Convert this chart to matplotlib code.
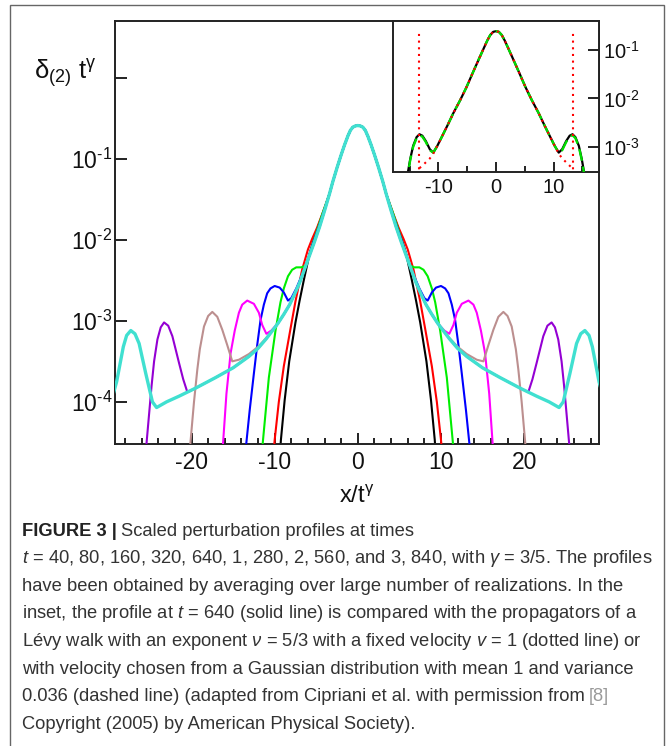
import numpy as np
import matplotlib
matplotlib.use('Agg')
import matplotlib.pyplot as plt
from matplotlib.patches import Rectangle
from matplotlib.ticker import FixedLocator, NullLocator

plt.rcParams['font.family'] = ['Liberation Sans', 'DejaVu Sans']
plt.rcParams['mathtext.fontset'] = 'custom'
plt.rcParams['mathtext.rm'] = 'Liberation Sans'
plt.rcParams['mathtext.it'] = 'Liberation Sans:italic'
plt.rcParams['mathtext.bf'] = 'Liberation Sans:bold'

W, H = 672, 746

# --- data: half profiles, x >= 0, value = log10(delta_(2) t^gamma); mirrored about x=0
times = [40, 80, 160, 320, 640, 1280, 2560, 3840]
colors = ['black', '#ff0000', '#00ee00', '#0000ff', '#ff00ff', '#bc8f8f', '#9400d3', '#40e0d0']

core_x = [0.0, 0.3, 0.6, 0.9, 1.2, 1.6, 2.0, 2.5, 3.0, 3.4]
core_ly = [-0.59, -0.595, -0.61, -0.65, -0.72, -0.83, -0.95, -1.11, -1.28, -1.43]

env_x = [4.0, 4.6, 5.2, 5.8, 6.4, 7.0, 7.6, 8.2, 8.9, 9.6]
env_ly = [-1.64, -1.84, -2.02, -2.19, -2.36, -2.53, -2.67, -2.80, -2.92, -3.03]

tail_x_40 = [4.2, 5.0, 5.8, 6.5, 7.0, 7.5, 8.25, 8.8, 9.25, 9.4]
tail_ly_40 = [-1.68, -1.90, -2.17, -2.50, -2.75, -3.02, -3.50, -3.98, -4.47, -4.70]

tail_x_80 = [4.2, 4.9, 5.5, 6.0, 6.7, 7.5, 8.1, 8.9, 9.5, 10.0, 10.2]
tail_ly_80 = [-1.66, -1.85, -1.99, -2.12, -2.37, -2.76, -3.10, -3.56, -4.00, -4.47, -4.70]

tail_x_160 = [4.2, 4.9, 5.5, 6.0, 6.3, 6.8, 7.4, 7.9, 8.4, 8.9, 9.3, 9.9, 10.7, 11.4, 11.6]
tail_ly_160 = [-1.66, -1.88, -2.08, -2.25, -2.32, -2.34, -2.34, -2.37, -2.45, -2.60, -2.77,
               -3.12, -3.70, -4.47, -4.70]

tail_x_320 = [4.4, 5.4, 6.4, 7.4, 8.0, 8.4, 8.9, 9.4, 10.0, 10.5, 10.9, 11.3, 11.7, 12.1,
              12.5, 13.0, 13.4, 13.6]
tail_ly_320 = [-1.75, -2.05, -2.36, -2.60, -2.72, -2.75, -2.65, -2.59, -2.57, -2.60, -2.66,
               -2.80, -2.99, -3.30, -3.65, -4.10, -4.50, -4.70]

tail_x_640 = env_x + [10.4, 11.0, 11.5, 11.9, 12.5, 13.3, 13.9, 14.3, 14.8, 15.3, 15.8, 16.2, 16.4]
tail_ly_640 = env_ly + [-3.12, -3.16, -3.05, -2.90, -2.79, -2.75, -2.80, -2.90, -3.12, -3.40,
                        -3.90, -4.50, -4.70]

tail_x_1280 = env_x + [11.0, 12.0, 13.1, 14.3, 15.1, 15.7, 16.3, 16.9, 17.5, 18.0, 18.5, 19.0,
                       19.3, 19.7, 20.1, 20.3]
tail_ly_1280 = env_ly + [-3.21, -3.32, -3.41, -3.48, -3.50, -3.30, -3.11, -2.95, -2.89, -2.94,
                         -3.07, -3.35, -3.60, -4.00, -4.47, -4.70]

tail_x_2560 = env_x + [11.0, 12.0, 13.1, 15.0, 17.1, 19.5, 20.5, 21.0, 21.5, 22.3, 22.8, 23.3,
                       23.7, 24.1, 24.5, 24.8, 25.1, 25.4, 25.6]
tail_ly_2560 = env_ly + [-3.22, -3.34, -3.44, -3.58, -3.70, -3.83, -3.88, -3.72, -3.52, -3.19,
                         -3.06, -3.02, -3.08, -3.23, -3.50, -3.80, -4.15, -4.50, -4.70]

tail_x_3840 = env_x + [11.0, 12.0, 13.1, 15.0, 17.1, 19.5, 21.5, 23.0, 24.2, 24.7, 25.5, 26.3,
                       26.8, 27.3, 27.8, 28.2, 29.0, 29.4]
tail_ly_3840 = env_ly + [-3.22, -3.34, -3.44, -3.58, -3.70, -3.83, -3.93, -4.00, -4.07, -4.00,
                         -3.65, -3.28, -3.16, -3.12, -3.18, -3.32, -3.75, -3.90]

tails_x = [tail_x_40, tail_x_80, tail_x_160, tail_x_320, tail_x_640, tail_x_1280, tail_x_2560, tail_x_3840]
tails_ly = [tail_ly_40, tail_ly_80, tail_ly_160, tail_ly_320, tail_ly_640, tail_ly_1280, tail_ly_2560, tail_ly_3840]

# inset: t = 640 profile (solid), gaussian-velocity walk (dashed), fixed-velocity walk (dotted)
ins_x = [0.0, 0.5, 1.0, 1.5, 2.0, 2.8, 4.0, 5.1, 6.2, 7.4, 8.4, 9.4, 10.2, 10.9, 11.5, 12.2,
         12.8, 13.3, 13.8, 14.4, 14.9, 15.3, 15.6]
ins_solid_ly = [-0.61, -0.625, -0.69, -0.80, -0.93, -1.14, -1.46, -1.76, -2.03, -2.30, -2.55,
                -2.79, -2.98, -3.12, -3.05, -2.88, -2.77, -2.74, -2.80, -2.98, -3.25, -3.52, -3.75]
ins_dashed_ly = [-0.61, -0.625, -0.69, -0.80, -0.93, -1.14, -1.46, -1.76, -2.03, -2.30, -2.55,
                 -2.79, -2.98, -3.12, -3.07, -2.90, -2.79, -2.76, -2.82, -3.00, -3.27, -3.55, -3.78]
dot_x = [0.0, 0.5, 1.0, 1.5, 2.0, 2.8, 4.0, 5.1, 6.2, 7.4, 8.4, 9.4, 10.2, 10.9, 11.5, 12.2,
         12.8, 13.3]
dot_ly = [-0.61, -0.625, -0.69, -0.80, -0.93, -1.14, -1.46, -1.76, -2.03, -2.30, -2.55, -2.79,
          -2.98, -3.14, -3.24, -3.32, -3.39, -3.44]
front_x = 13.3
front_top_ly = -0.63

main_xticks = [-20, -10, 0, 10, 20]
main_yticks = [1e0, 1e-1, 1e-2, 1e-3, 1e-4]
main_ylabels = ['', r'$\mathregular{10^{\text{-}1}}$', r'$\mathregular{10^{\text{-}2}}$',
                r'$\mathregular{10^{\text{-}3}}$', r'$\mathregular{10^{\text{-}4}}$']
ins_xticks = [-10, 0, 10]
ins_yticks = [1e-1, 1e-2, 1e-3]
ins_ylabels = [r'$\mathregular{10^{\text{-}1}}$', r'$\mathregular{10^{\text{-}2}}$',
               r'$\mathregular{10^{\text{-}3}}$']

caption = [
    r"$t$ = 40, 80, 160, 320, 640, 1, 280, 2, 560, and 3, 840, with $\gamma$ = 3/5. The profiles",
    "have been obtained by averaging over large number of realizations. In the",
    r"inset, the profile at $t$ = 640 (solid line) is compared with the propagators of a",
    r"Lévy walk with an exponent $\nu$ = 5/3 with a fixed velocity $v$ = 1 (dotted line) or",
    "with velocity chosen from a Gaussian distribution with mean 1 and variance",
]


def mirror(x, ly):
    x = np.asarray(x, float)
    ly = np.asarray(ly, float)
    return np.concatenate([-x[::-1], x[1:]]), 10 ** np.concatenate([ly[::-1], ly[1:]])


fig = plt.figure(figsize=(W / 100, H / 100), dpi=100)

# outer frame of the figure panel
fig.add_artist(Rectangle((9.5 / W, -0.01), 654 / W, 1.01 - 4.5 / H, transform=fig.transFigure,
                         fill=False, edgecolor='#666666', linewidth=1.0))

ax = fig.add_axes([115 / W, 1 - 444 / H, 484 / W, 423 / H])
for i, t in enumerate(times):
    x, y = mirror(core_x + tails_x[i], core_ly + tails_ly[i])
    lw = 2.4 if t == 3840 else 1.5
    ax.plot(x, y, color=colors[i], lw=lw, zorder=2 + i)
ax.set_yscale('log')
ax.set_xlim(-29.2, 29.0)
ax.set_ylim(10 ** -4.52, 10 ** 0.70)
ax.xaxis.set_major_locator(FixedLocator(main_xticks))
ax.xaxis.set_minor_locator(FixedLocator(np.arange(-28, 29, 2)))
ax.set_xticklabels([str(v) for v in main_xticks])
ax.yaxis.set_major_locator(FixedLocator(main_yticks))
ax.yaxis.set_minor_locator(NullLocator())
ax.set_yticklabels(main_ylabels)
ax.tick_params(axis='both', which='both', direction='in', top=False, right=False,
               width=1.3, labelsize=16.5, colors='#111111')
ax.tick_params(axis='x', which='major', length=8, pad=5)
ax.tick_params(axis='x', which='minor', length=4.5)
ax.tick_params(axis='y', which='major', length=8.5, pad=2)
for s in ax.spines.values():
    s.set_linewidth(1.4)
    s.set_color('#222222')

fig.text(34 / W, 1 - 74 / H, r'$\mathregular{\delta_{(2)}\ t^{\gamma}}$', fontsize=18.5,
         ha='left', va='center', color='#111111')
fig.text(357 / W, 1 - 497 / H, r'$\mathregular{x/t^{\gamma}}$', fontsize=17,
         ha='center', va='center', color='#111111')

# inset
axi = fig.add_axes([393 / W, 1 - 172 / H, 206 / W, 151 / H])
axi.set_facecolor('white')
xs, ys = mirror(ins_x, ins_solid_ly)
axi.plot(xs, ys, color='black', lw=1.6, zorder=2)
xd, yd = mirror(ins_x, ins_dashed_ly)
axi.plot(xd, yd, color='#00dd00', lw=1.7, ls=(0, (5, 2.5)), zorder=3)
xr, yr = mirror(dot_x, dot_ly)
axi.plot(xr, yr, color='#ff0000', lw=1.5, ls=(0, (1, 2.2)), zorder=4)
for fx in (-front_x, front_x):
    axi.plot([fx, fx], [10 ** -3.6, 10 ** front_top_ly], color='#ff0000', lw=1.5,
             ls=(0, (1, 2.2)), zorder=4)
axi.set_yscale('log')
axi.set_xlim(-17.9, 17.9)
axi.set_ylim(10 ** -3.52, 10 ** -0.40)
axi.xaxis.set_major_locator(FixedLocator(ins_xticks))
axi.xaxis.set_minor_locator(FixedLocator([-15, -5, 5, 15]))
axi.set_xticklabels([str(v) for v in ins_xticks])
axi.yaxis.set_major_locator(FixedLocator(ins_yticks))
axi.yaxis.set_minor_locator(NullLocator())
axi.set_yticklabels(ins_ylabels)
axi.yaxis.tick_right()
axi.tick_params(axis='both', which='both', direction='in', width=1.3, labelsize=14.5,
                colors='#111111', left=False, top=False)
axi.tick_params(axis='x', which='major', length=7, pad=4)
axi.tick_params(axis='x', which='minor', length=4)
axi.tick_params(axis='y', which='major', length=8, pad=3, labelright=True, labelleft=False)
for s in axi.spines.values():
    s.set_linewidth(1.4)
    s.set_color('#222222')

# caption
renderer = fig.canvas.get_renderer()
cap_color = '#333333'
fs = 13.2
x0 = 22 / W
y_first = 1 - 531 / H
step = 27.6 / H
t1 = fig.text(x0, y_first, 'FIGURE 3 |', fontsize=fs, weight='bold', color='#222222',
              va='center', ha='left')
bb = t1.get_window_extent(renderer)
fig.text(bb.x1 / W + 4 / W, y_first, 'Scaled perturbation profiles at times', fontsize=fs,
         color=cap_color, va='center', ha='left')
for k, line in enumerate(caption):
    fig.text(x0, y_first - (k + 1) * step, line, fontsize=fs, color=cap_color,
             va='center', ha='left')
y6 = y_first - 6 * step
t6 = fig.text(x0, y6, '0.036 (dashed line) (adapted from Cipriani et al. with permission from',
              fontsize=fs, color=cap_color, va='center', ha='left')
bb6 = t6.get_window_extent(renderer)
fig.text(bb6.x1 / W + 4 / W, y6, '[8]', fontsize=fs, color='#9a9a9a', va='center', ha='left')
fig.text(x0, y_first - 7 * step, 'Copyright (2005) by American Physical Society).', fontsize=fs,
         color=cap_color, va='center', ha='left')

fig.savefig('out.png', dpi=100)
